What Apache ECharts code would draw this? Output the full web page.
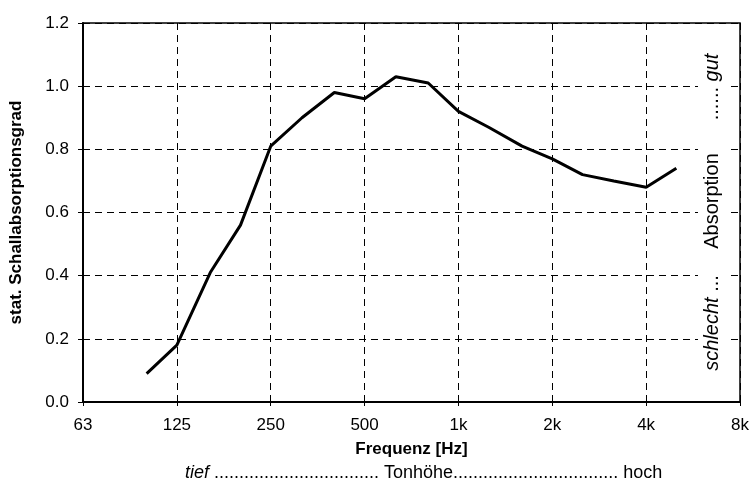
<!DOCTYPE html>
<html>
<head>
<meta charset="utf-8">
<script src="https://cdn.jsdelivr.net/npm/echarts@6/dist/echarts.min.js"></script>
<style>
  html, body { margin: 0; padding: 0; background: #fff; }
  #chart { width: 754px; height: 488px; }
</style>
</head>
<body>
<div id="chart"></div>
<script>
// third-octave band centre frequencies [Hz]
const frequencies = [100, 125, 160, 200, 250, 315, 400, 500, 630, 800, 1000, 1250, 1600, 2000, 2500, 3150, 4000, 5000];
// statistical absorption coefficient
const alpha = [0.09, 0.18, 0.41, 0.56, 0.81, 0.90, 0.98, 0.96, 1.03, 1.01, 0.92, 0.87, 0.81, 0.77, 0.72, 0.70, 0.68, 0.74];
// octave tick labels, starting at 63 Hz
const tickLabels = ['63', '125', '250', '500', '1k', '2k', '4k', '8k'];

const FONT = '"Liberation Sans", Arial, sans-serif';
const dots = n => '.'.repeat(n);

// octaves above 62.5 Hz -> linear position on the x axis
const toOctave = f => Math.log2(f / 62.5);

const getOption = () => {
  return {
    animation: false,
    backgroundColor: '#fff',
    textStyle: { fontFamily: FONT },
    grid: {
      left: 83, right: 14, top: 23, bottom: 86,
      show: true, borderColor: '#000', borderWidth: 1.5
    },
    xAxis: {
      type: 'value',
      min: 0, max: 7, interval: 1,
      name: 'Frequenz [Hz]',
      nameLocation: 'middle',
      nameGap: 39,
      nameTextStyle: { fontFamily: FONT, fontWeight: 'bold', fontSize: 17, color: '#000' },
      axisLine: { lineStyle: { color: '#000', width: 2 } },
      axisTick: { show: true, length: 4, lineStyle: { color: '#000', width: 1 } },
      axisLabel: {
        fontFamily: FONT, fontSize: 17, color: '#000', margin: 15,
        formatter: v => tickLabels[Math.round(v)]
      },
      splitLine: { show: true, lineStyle: { color: '#000', width: 1, type: [7, 5] } }
    },
    yAxis: {
      type: 'value',
      min: 0, max: 1.2, interval: 0.2,
      name: 'stat. Schallabsorptionsgrad',
      nameLocation: 'middle',
      nameGap: 58,
      nameTextStyle: { fontFamily: FONT, fontWeight: 'bold', fontSize: 17, color: '#000' },
      axisLine: { show: true, lineStyle: { color: '#000', width: 2 } },
      axisTick: { show: true, length: 5, lineStyle: { color: '#000', width: 1 } },
      axisLabel: {
        fontFamily: FONT, fontSize: 17, color: '#000', margin: 14,
        formatter: v => v.toFixed(1)
      },
      splitLine: { show: true, lineStyle: { color: '#000', width: 1, type: [7, 5] } }
    },
    series: [
      {
        type: 'line',
        data: frequencies.map((f, i) => [toOctave(f), alpha[i]]),
        showSymbol: false,
        lineStyle: { color: '#000', width: 3 },
        z: 5
      }
    ],
    graphic: [
      // white column behind the rating scale (grid lines break there)
      {
        type: 'rect', z: 10,
        shape: { x: 698, y: 40, width: 32, height: 342 },
        style: { fill: '#fff' }
      },
      // right-hand rating scale, reading bottom to top
      {
        type: 'text', x: 712, y: 323, rotation: Math.PI / 2, z: 11,
        style: {
          text: '{i|schlecht} ...', fontFamily: FONT, fontSize: 20, fill: '#000',
          align: 'center', verticalAlign: 'middle',
          rich: { i: { fontStyle: 'italic', fontFamily: FONT, fontSize: 20 } }
        }
      },
      {
        type: 'text', x: 712, y: 201, rotation: Math.PI / 2, z: 11,
        style: {
          text: 'Absorption', fontFamily: FONT, fontSize: 20, fill: '#000',
          align: 'center', verticalAlign: 'middle'
        }
      },
      {
        type: 'text', x: 712, y: 87, rotation: Math.PI / 2, z: 11,
        style: {
          text: '...... {i|gut}', fontFamily: FONT, fontSize: 20, fill: '#000',
          align: 'center', verticalAlign: 'middle',
          rich: { i: { fontStyle: 'italic', fontFamily: FONT, fontSize: 20 } }
        }
      },
      // pitch line under the axis title
      {
        type: 'text', x: 185, y: 473,
        style: {
          text: '{i|tief} ' + dots(33) + ' Tonhöhe' + dots(33) + ' hoch',
          fontFamily: FONT, fontSize: 18, fill: '#000',
          align: 'left', verticalAlign: 'middle',
          rich: { i: { fontStyle: 'italic', fontFamily: FONT, fontSize: 18 } }
        }
      }
    ]
  };
};

const chart = echarts.init(document.querySelector('#chart'));
chart.setOption(getOption());
</script>
</body>
</html>
